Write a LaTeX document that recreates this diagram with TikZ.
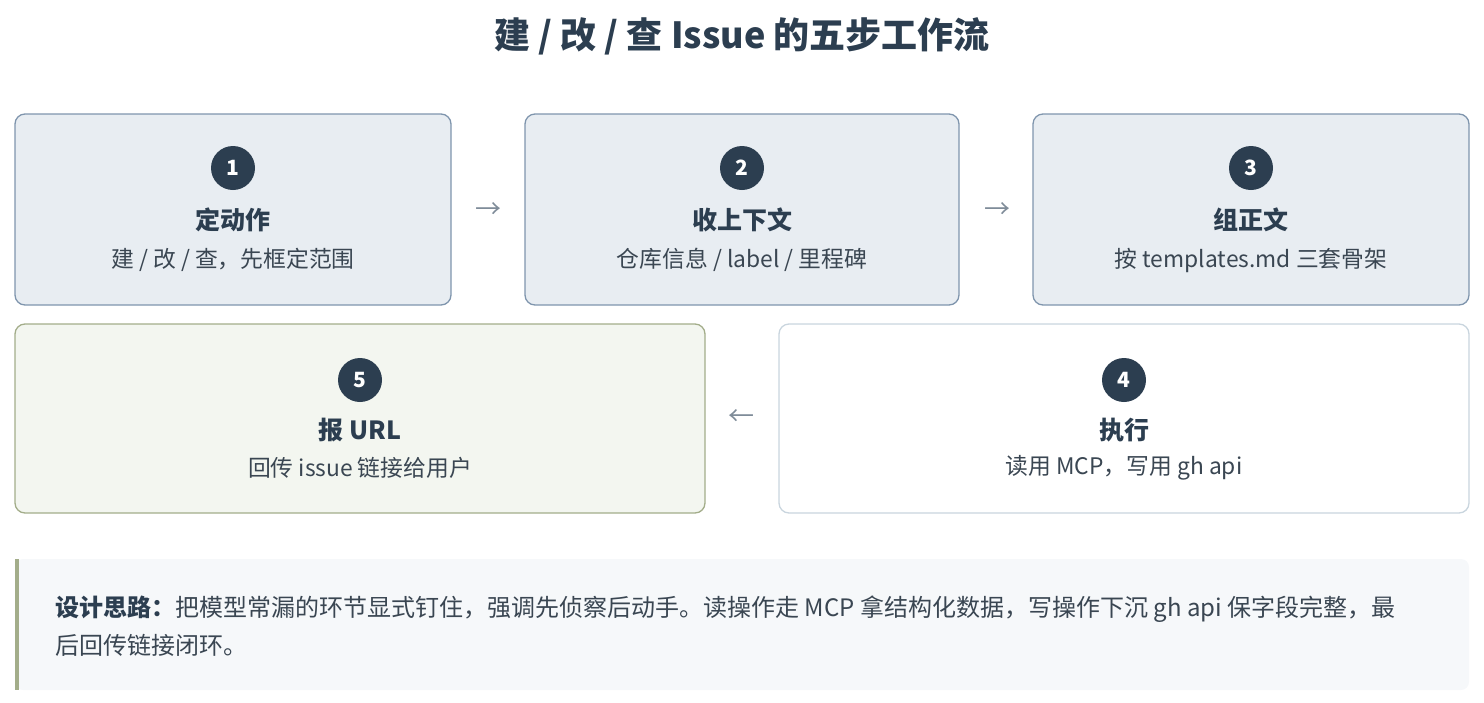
\documentclass[tikz,border=0pt]{standalone}
\usepackage{fontspec}
\setmainfont{Noto Sans CJK SC}
\definecolor{dark}{HTML}{2C3E50}
\definecolor{txt}{HTML}{3A4652}
\definecolor{topfill}{HTML}{E8EDF2}
\definecolor{topdraw}{HTML}{7F95AD}
\definecolor{gfill}{HTML}{F3F6F0}
\definecolor{gdraw}{HTML}{A3AD8A}
\definecolor{wdraw}{HTML}{C9D5DE}
\definecolor{notefill}{HTML}{F6F8FA}
\definecolor{arr}{HTML}{7F8C99}
\begin{document}
\begin{tikzpicture}[x=1pt,y=-1pt,
  box/.style={rounded corners=10pt,line width=1.3pt},
  num/.style={circle,fill=dark,minimum size=44pt,inner sep=0pt,text=white,font=\fontsize{21}{21}\selectfont\bfseries},
  head/.style={text=dark,font=\fontsize{25}{25}\selectfont\bfseries},
  desc/.style={text=txt,font=\fontsize{22.8}{22.8}\selectfont},
  ar/.style={text=arr,font=\fontsize{26}{26}\selectfont}]
\useasboundingbox (0,0) rectangle (1484,702);
\node[text=dark,font=\fontsize{36}{36}\selectfont\bfseries] (title) at (742,36) {建 / 改 / 查 Issue 的五步工作流};
\draw[box,fill=topfill,draw=topdraw] (15,114) rectangle (451,305);
\draw[box,fill=topfill,draw=topdraw] (525,114) rectangle (959,305);
\draw[box,fill=topfill,draw=topdraw] (1033,114) rectangle (1469,305);
\draw[box,fill=gfill,draw=gdraw] (15,324) rectangle (705,513);
\draw[box,fill=white,draw=wdraw] (779,324) rectangle (1469,513);
\node[num] (n1) at (233,168) {1};
\node[head] (h1) at (233,220) {定动作};
\node[desc] (d1) at (233,260) {建 / 改 / 查，先框定范围};
\node[num] (n2) at (742,168) {2};
\node[head] (h2) at (742,220) {收上下文};
\node[desc] (d2) at (742,260) {仓库信息 / label / 里程碑};
\node[num] (n3) at (1251,168) {3};
\node[head] (h3) at (1251,220) {组正文};
\node[desc] (d3) at (1251,260) {按 templates.md 三套骨架};
\node[num] (n5) at (360,380) {5};
\node[head] (h5) at (360,430) {报 URL};
\node[desc] (d5) at (360,468) {回传 issue 链接给用户};
\node[num] (n4) at (1124,380) {4};
\node[head] (h4) at (1124,430) {执行};
\node[desc] (d4) at (1124,468) {读用 MCP，写用 gh api};
\node[ar] (a1) at (488,211) {→};
\node[ar] (a2) at (997,211) {→};
\node[ar] (a3) at (741,418) {←};
\fill[notefill,rounded corners=8pt] (15,559) rectangle (1469,690);
\fill[gdraw] (15,559) rectangle (19,690);
\node[anchor=west,align=left,text=txt,font=\fontsize{24}{38}\selectfont] (note) at (52,626)
{{\bfseries\color{dark}设计思路：}把模型常漏的环节显式钉住，强调先侦察后动手。读操作走 MCP 拿结构化数据，写操作下沉 gh api 保字段完整，最\\后回传链接闭环。};
\end{tikzpicture}
\end{document}
